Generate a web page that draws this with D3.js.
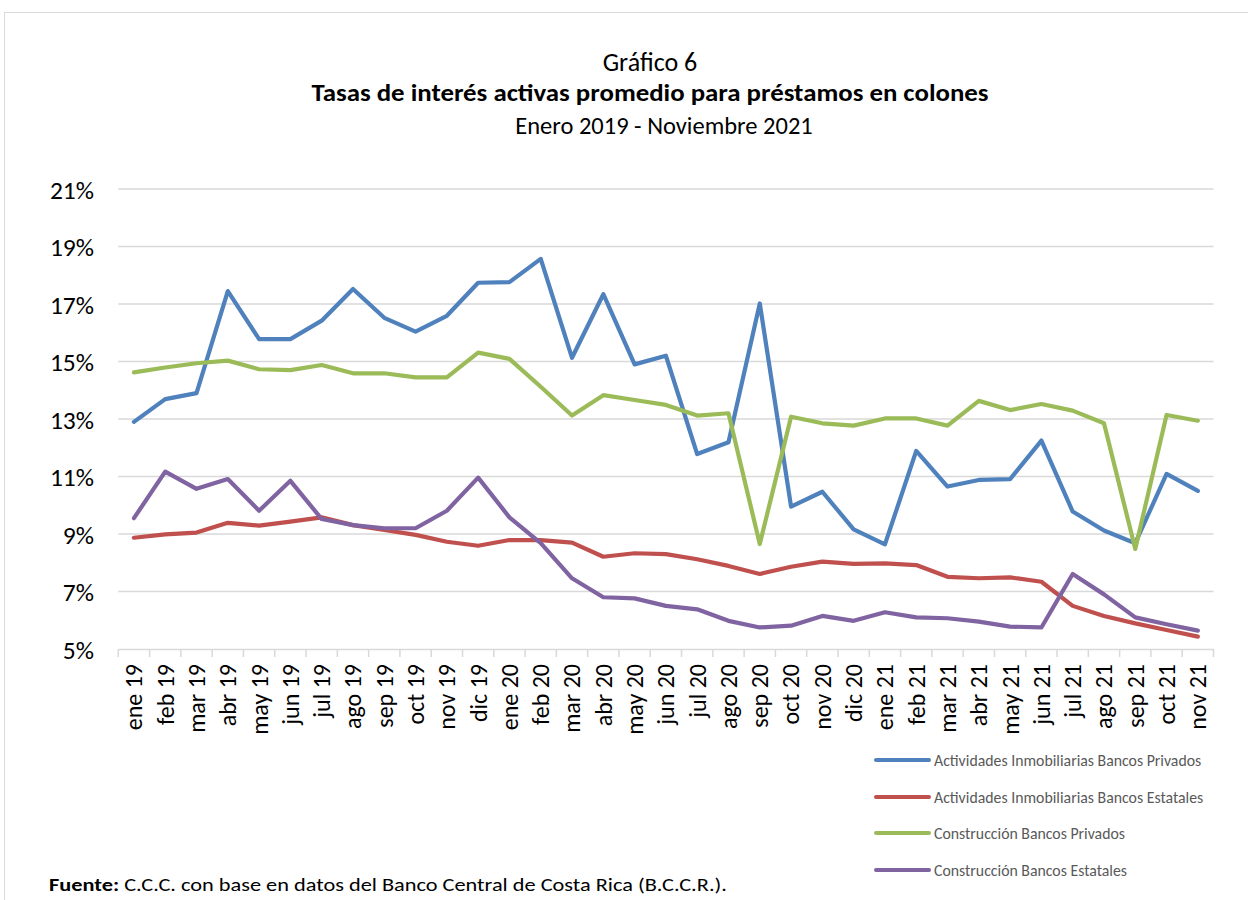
<!DOCTYPE html>
<html><head><meta charset="utf-8">
<script src="https://cdn.jsdelivr.net/npm/d3@7"></script>
<style>body{margin:0;background:#fff;}svg{display:block;}</style>
</head><body>
<script>
const categories = ["ene 19","feb 19","mar 19","abr 19","may 19","jun 19","jul 19","ago 19","sep 19","oct 19","nov 19","dic 19",
"ene 20","feb 20","mar 20","abr 20","may 20","jun 20","jul 20","ago 20","sep 20","oct 20","nov 20","dic 20",
"ene 21","feb 21","mar 21","abr 21","may 21","jun 21","jul 21","ago 21","sep 21","oct 21","nov 21"];
const inmobPrivados = [12.9,13.69,13.9,17.45,15.78,15.78,16.42,17.52,16.52,16.04,16.59,17.74,17.76,18.57,15.13,17.34,14.9,15.2,11.78,12.19,17.02,9.95,10.47,9.16,8.64,11.89,10.65,10.88,10.91,12.25,9.78,9.12,8.68,11.09,10.5];
const inmobEstatales = [8.87,8.99,9.05,9.39,9.29,9.43,9.58,9.31,9.14,8.97,8.73,8.59,8.79,8.79,8.7,8.21,8.33,8.3,8.12,7.89,7.61,7.86,8.04,7.96,7.98,7.92,7.51,7.46,7.49,7.34,6.5,6.15,5.89,5.66,5.43];
const construPrivados = [14.62,14.79,14.94,15.03,14.73,14.7,14.88,14.59,14.59,14.45,14.45,15.31,15.09,14.12,13.12,13.83,13.66,13.49,13.12,13.2,8.65,13.08,12.85,12.77,13.02,13.02,12.77,13.63,13.31,13.52,13.29,12.85,8.48,13.14,12.94];
const construEstatales = [9.55,11.17,10.57,10.91,9.81,10.85,9.52,9.31,9.2,9.2,9.81,10.96,9.58,8.68,7.46,6.8,6.76,6.5,6.38,5.98,5.75,5.81,6.15,5.98,6.28,6.1,6.07,5.95,5.78,5.75,7.61,6.9,6.1,5.86,5.64];
const yTicks = [5,7,9,11,13,15,17,19,21];
const seriesNames = ["Actividades Inmobiliarias Bancos Privados","Actividades Inmobiliarias Bancos Estatales","Construcción Bancos Privados","Construcción Bancos Estatales"];
const seriesColors = ["#4f81bd","#c0504d","#9bbb59","#8064a2"];
const seriesData = [inmobPrivados, inmobEstatales, construPrivados, construEstatales];

const W = 1248, H = 900;
const svg = d3.select("body").append("svg").attr("width", W).attr("height", H);
const font = "Carlito, Lato, 'Open Sans', sans-serif";

// outer frame
svg.append("rect").attr("x",4.5).attr("y",12.5).attr("width",1260).attr("height",900)
  .attr("fill","none").attr("stroke","#d9d9d9").attr("stroke-width",1);

// titles
svg.append("text").attr("x",650).attr("y",71).attr("text-anchor","middle")
  .attr("font-family",font).attr("font-size",26).attr("fill","#000").text("Gráfico 6");
svg.append("text").attr("x",650).attr("y",101).attr("text-anchor","middle")
  .attr("font-family",font).attr("font-size",24).attr("font-weight","bold").attr("fill","#000")
  .attr("textLength",677).attr("lengthAdjust","spacingAndGlyphs")
  .text("Tasas de interés activas promedio para préstamos en colones");
svg.append("text").attr("x",664).attr("y",134).attr("text-anchor","middle")
  .attr("font-family",font).attr("font-size",24.5).attr("fill","#000")
  .text("Enero 2019 - Noviembre 2021");

const x0 = 118.3, x1 = 1213.5, yTop = 189, yBot = 649;
const x = d3.scaleBand().domain(categories).range([x0, x1]).padding(0);
const y = d3.scaleLinear().domain([5, 21]).range([yBot, yTop]);

// grid
svg.append("g").selectAll("line").data(yTicks.slice(1)).join("line")
  .attr("x1",x0).attr("x2",x1).attr("y1",d=>y(d)).attr("y2",d=>y(d))
  .attr("stroke","#d9d9d9").attr("stroke-width",1.5);

// y axis labels
const yAxis = d3.axisLeft(y).tickValues(yTicks).tickFormat(d=>d+"%").tickSize(0).tickPadding(0);
const gy = svg.append("g").attr("transform",`translate(${94},0)`).call(yAxis);
gy.select(".domain").remove();
gy.selectAll("text").attr("font-family",font).attr("font-size",25.5).attr("fill","#000").attr("dy","0.36em");

// x axis
const xAxis = d3.axisBottom(x).tickSize(0).tickPadding(0);
const gx = svg.append("g").attr("transform",`translate(0,${yBot})`).call(xAxis);
gx.select(".domain").attr("stroke","#d9d9d9").attr("stroke-width",1.5);
gx.selectAll("text").attr("font-family",font).attr("font-size",24).attr("fill","#000")
  .attr("text-anchor","end").attr("transform","rotate(-90)")
  .attr("x",-15).attr("y",0).attr("dy","0.35em");
// band boundary ticks
const bounds = categories.map(c=>x(c)).concat([x1]);
svg.append("g").selectAll("line").data(bounds).join("line")
  .attr("x1",d=>d).attr("x2",d=>d).attr("y1",yBot).attr("y2",yBot+8)
  .attr("stroke","#d9d9d9").attr("stroke-width",1.5);

// lines
const line = d3.line().x((d,i)=>x(categories[i])+x.bandwidth()/2).y(d=>y(d));
seriesData.forEach((s,k)=>{
  svg.append("path").datum(s).attr("d",line).attr("fill","none")
    .attr("stroke",seriesColors[k]).attr("stroke-width",4.2)
    .attr("stroke-linejoin","round").attr("stroke-linecap","round");
});

// legend
const legY = [760, 797, 833, 870];
seriesNames.forEach((n,k)=>{
  svg.append("line").attr("x1",876).attr("x2",929).attr("y1",legY[k]).attr("y2",legY[k])
    .attr("stroke",seriesColors[k]).attr("stroke-width",4).attr("stroke-linecap","round");
  svg.append("text").attr("x",934).attr("y",legY[k]).attr("dy","0.35em")
    .attr("font-family",font).attr("font-size",15.8).attr("fill","#595959").text(n);
});

// footer
const ft = svg.append("text").attr("x",49).attr("y",891).attr("font-family",font).attr("font-size",18).attr("fill","#000")
  .attr("textLength",678).attr("lengthAdjust","spacingAndGlyphs");
ft.append("tspan").attr("font-weight","bold").text("Fuente:");
ft.append("tspan").text(" C.C.C. con base en datos del Banco Central de Costa Rica (B.C.C.R.).");
</script>
</body></html>
